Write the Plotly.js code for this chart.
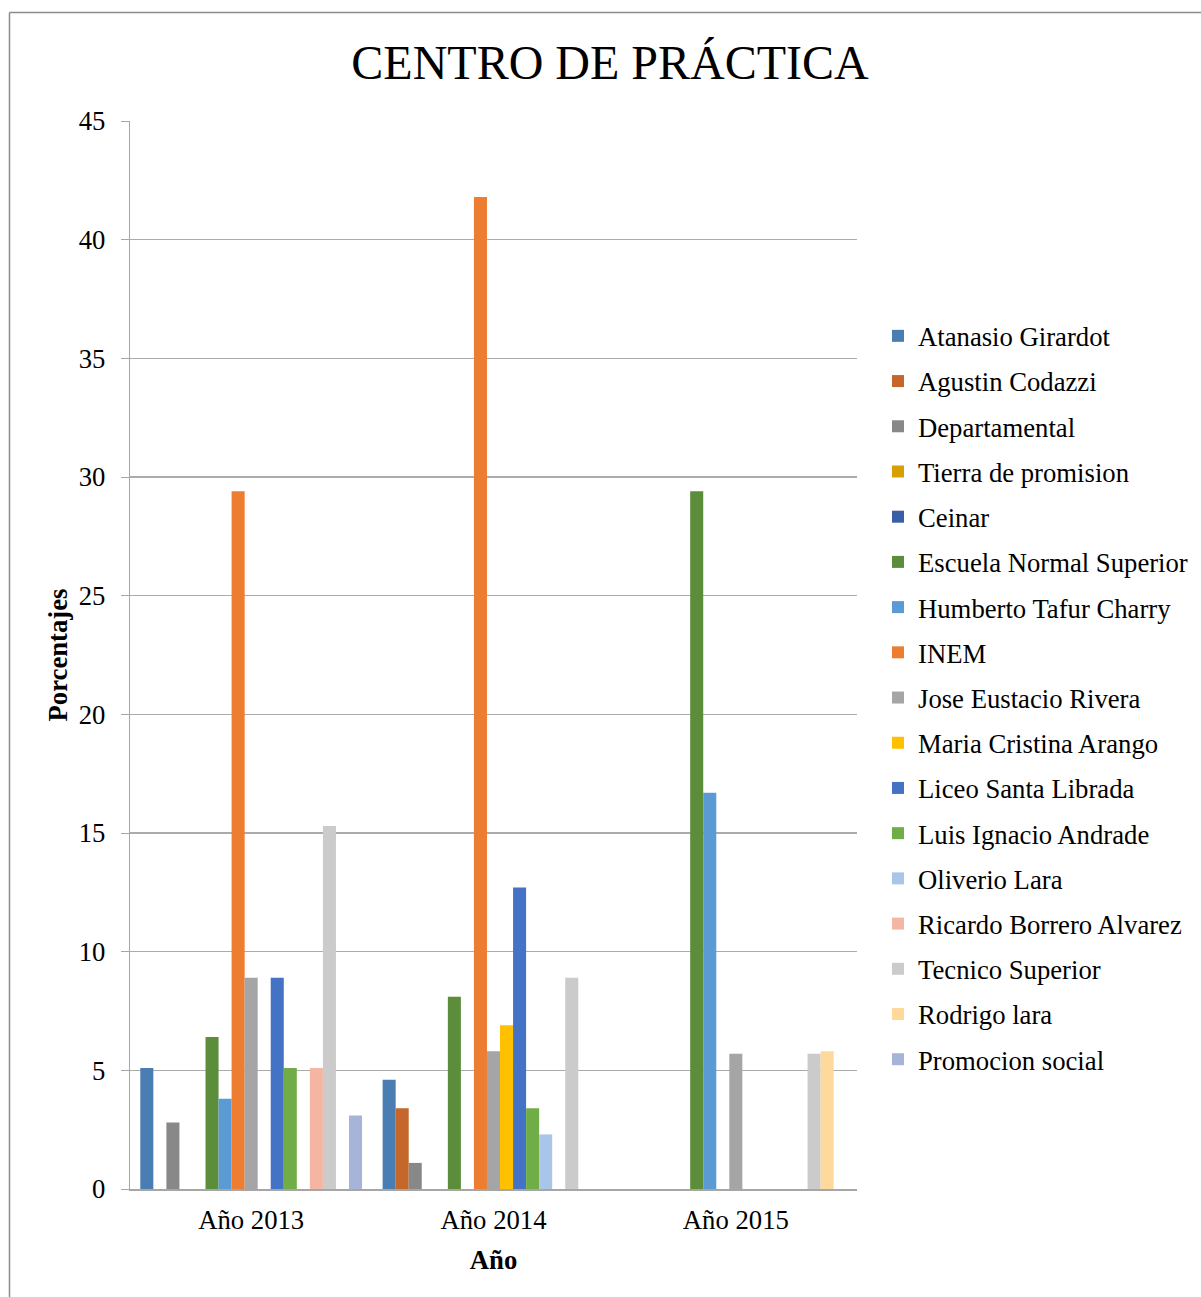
<!DOCTYPE html>
<html>
<head>
<meta charset="utf-8">
<script src="https://cdn.plot.ly/plotly-3.0.1.min.js"></script>
<style>html,body{margin:0;padding:0;background:#fff;}#chart{width:1201px;height:1297px;}</style>
</head>
<body>
<div id="chart"></div>
<script>
const categories = ["Año 2013", "Año 2014", "Año 2015"];
const seriesNames = [
  "Atanasio Girardot", "Agustin Codazzi", "Departamental", "Tierra de promision",
  "Ceinar", "Escuela Normal Superior", "Humberto Tafur Charry", "INEM",
  "Jose Eustacio Rivera", "Maria Cristina Arango", "Liceo Santa Librada",
  "Luis Ignacio Andrade", "Oliverio Lara", "Ricardo Borrero Alvarez",
  "Tecnico Superior", "Rodrigo lara", "Promocion social"
];
const atanasio = [5.1, 4.6, 0];
const agustin = [0, 3.4, 0];
const departamental = [2.8, 1.1, 0];
const tierra = [0, 0, 0];
const ceinar = [0, 0, 0];
const escuela = [6.4, 8.1, 29.4];
const humberto = [3.8, 0, 16.7];
const inem = [29.4, 41.8, 0];
const jose = [8.9, 5.8, 5.7];
const maria = [0, 6.9, 0];
const liceo = [8.9, 12.7, 0];
const luis = [5.1, 3.4, 0];
const oliverio = [0, 2.3, 0];
const ricardo = [5.1, 0, 0];
const tecnico = [15.3, 8.9, 5.7];
const rodrigo = [0, 0, 5.8];
const promocion = [3.1, 0, 0];
const yTicks = [0, 5, 10, 15, 20, 25, 30, 35, 40, 45];

const seriesValues = [atanasio, agustin, departamental, tierra, ceinar, escuela, humberto, inem,
  jose, maria, liceo, luis, oliverio, ricardo, tecnico, rodrigo, promocion];
const colors = ["#4A7EB3", "#C5662A", "#888888", "#D6A000", "#3A5EA6", "#5B8D3A", "#5B9BD5", "#ED7D31",
  "#A5A5A5", "#FFC000", "#4472C4", "#70AD47", "#A9C5E8", "#F4B6A2", "#CBCBCB", "#FFD89C", "#A6B4DA"];

const data = seriesNames.map((n, i) => ({
  type: "bar", name: n, x: categories, y: seriesValues[i], legendgroup: "g" + i,
  marker: {color: colors[i]}, hoverinfo: "x+y+name"
}));

const W = 1201, H = 1297, L = 130, R = 857, T = 121, B = 1189;
const px = v => (v - L) / (R - L);
const py = v => (B - v) / (B - T);
const FS = 26.7;
const FF = "Liberation Serif";

const layout = {
  width: W, height: H,
  margin: {l: L, r: W - R, t: T, b: H - B, autoexpand: false},
  paper_bgcolor: "#fff", plot_bgcolor: "#fff",
  font: {family: FF, color: "#000"},
  title: {text: "CENTRO DE PRÁCTICA", font: {size: 48, family: FF, color: "#000"},
    x: 610 / W, xanchor: "center", y: 1 - 62/H, yanchor: "middle"},
  barmode: "group", bargap: 0.085, bargroupgap: 0,
  xaxis: {
    type: "category", showgrid: false, zeroline: false,
    showline: true, linecolor: "#A6A6A6", linewidth: 1.5,
    ticks: "", ticklabelstandoff: 6, tickfont: {size: FS, family: FF, color: "#000"},
    title: {text: "<b>Año</b>", font: {size: FS, family: FF, color: "#000"}, standoff: 17},
    fixedrange: true
  },
  yaxis: {
    range: [0, 45], tickvals: yTicks, ticktext: yTicks.map(String),
    showgrid: true, gridcolor: "#ABABAB", gridwidth: 1.2,
    zeroline: false, showline: true, linecolor: "#A6A6A6", linewidth: 1.2,
    ticks: "outside", ticklen: 8, tickcolor: "#A6A6A6", ticklabelstandoff: 10,
    tickfont: {size: FS, family: FF, color: "#000"},
    title: {text: "<b>Porcentajes</b>", font: {size: FS, family: FF, color: "#000"}, standoff: 3},
    fixedrange: true
  },
  legend: {
    x: px(878), xanchor: "left", y: py(312), yanchor: "top",
    font: {size: FS, family: FF, color: "#000"},
    tracegroupgap: 7.5, itemwidth: 30, itemsizing: "constant", traceorder: "grouped",
    bgcolor: "rgba(0,0,0,0)"
  },
  shapes: [
    {type: "line", xref: "paper", yref: "paper", x0: px(9.5), x1: px(1205), y0: py(12.5), y1: py(12.5),
      line: {color: "#8C8C8C", width: 1.5}},
    {type: "line", xref: "paper", yref: "paper", x0: px(9.5), x1: px(9.5), y0: py(12.5), y1: py(1305),
      line: {color: "#8C8C8C", width: 1.5}}
  ],
  showlegend: true
};

Plotly.newPlot("chart", data, layout, {displayModeBar: false, staticPlot: true});
</script>
</body>
</html>
